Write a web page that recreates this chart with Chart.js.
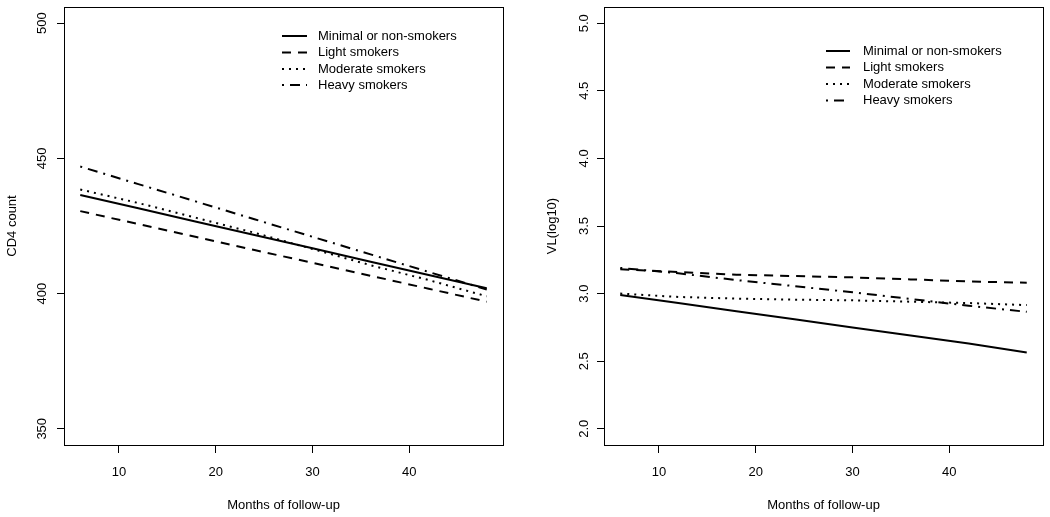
<!DOCTYPE html>
<html><head><meta charset="utf-8">
<script src="https://cdn.jsdelivr.net/npm/chart.js@4/dist/chart.umd.min.js"></script>
<style>
html,body{margin:0;padding:0;background:#fff;}
#wrap{position:relative;width:1050px;height:517px;overflow:hidden;}
canvas{position:absolute;top:0;}
</style>
</head><body>
<div id="wrap">
<canvas id="c1" width="525" height="517" style="left:0px"></canvas>
<canvas id="c2" width="525" height="517" style="left:525px"></canvas>
</div>
<script>
// ---- data ----
const months = [6, 12, 18, 24, 30, 36, 42, 48];
const seriesNames = ['Minimal or non-smokers', 'Light smokers', 'Moderate smokers', 'Heavy smokers'];

const cd4Minimal  = [436.5, 431.6, 426.6, 421.7, 416.8, 411.8, 406.9, 402.0];
const cd4Light    = [430.5, 425.7, 420.9, 416.1, 411.4, 406.6, 401.8, 397.0];
const cd4Moderate = [438.5, 433.5, 428.0, 422.5, 416.5, 410.5, 405.0, 399.0];
const cd4Heavy    = [447.0, 440.5, 434.0, 427.5, 421.0, 414.5, 408.0, 401.5];

const vlMinimal  = [2.99, 2.93, 2.87, 2.81, 2.75, 2.69, 2.63, 2.565];
const vlLight    = [3.18, 3.16, 3.14, 3.13, 3.12, 3.105, 3.09, 3.08];
const vlModerate = [3.00, 2.975, 2.963, 2.955, 2.95, 2.94, 2.93, 2.915];
const vlHeavy    = [3.19, 3.15, 3.10, 3.055, 3.01, 2.96, 2.91, 2.865];

const xTicks = [10, 20, 30, 40];
const cd4Ticks = [350, 400, 450, 500];
const vlTicks = [2.0, 2.5, 3.0, 3.5, 4.0, 4.5, 5.0];

const xTitle = 'Months of follow-up';
const cd4Title = 'CD4 count';
const vlTitle = 'VL(log10)';

// ---- styles ----
const FONT = '"Liberation Sans", Arial, sans-serif';
const dashes = [[], [9, 7], [2, 5], [2, 6, 10, 6]];

function makeDatasets(arrs) {
  return arrs.map((vals, i) => ({
    label: seriesNames[i],
    data: months.map((m, j) => ({x: m, y: vals[j]})),
    borderColor: '#000',
    borderWidth: 2,
    borderDash: dashes[i],
    borderCapStyle: 'butt',
    pointRadius: 0,
    tension: 0,
    fill: false
  }));
}

function rPlugin(cfg) {
  return {
    id: 'rstyle',
    afterDraw(chart) {
      const ctx = chart.ctx;
      const a = chart.chartArea;
      const ys = chart.scales.y;
      ctx.save();
      // box
      ctx.strokeStyle = '#000';
      ctx.lineWidth = 1;
      ctx.setLineDash([]);
      ctx.strokeRect(Math.round(a.left) + 0.5, Math.round(a.top) + 0.5, Math.round(a.right - a.left), Math.round(a.bottom - a.top));
      // y tick labels rotated
      ctx.fillStyle = '#000';
      ctx.font = '13px ' + FONT;
      ctx.textAlign = 'center';
      ctx.textBaseline = 'middle';
      cfg.yTicks.forEach(v => {
        const py = ys.getPixelForValue(v);
        ctx.save();
        ctx.translate(a.left - cfg.yLabOff, py);
        ctx.rotate(-Math.PI / 2);
        ctx.fillText(cfg.fmt(v), 0, 0);
        ctx.restore();
      });
      // y title
      ctx.save();
      ctx.translate(a.left - 52, (a.top + a.bottom) / 2);
      ctx.rotate(-Math.PI / 2);
      ctx.fillText(cfg.yTitle, 0, 0);
      ctx.restore();
      // x title
      ctx.fillText(xTitle, (a.left + a.right) / 2, 505);
      // legend
      ctx.textAlign = 'left';
      chart.data.datasets.forEach((ds, i) => {
        const ly = cfg.legY[i];
        ctx.beginPath();
        ctx.setLineDash(ds.borderDash);
        ctx.lineWidth = 2;
        ctx.lineCap = 'butt';
        ctx.moveTo(cfg.legX0, ly);
        ctx.lineTo(cfg.legX1, ly);
        ctx.stroke();
        ctx.setLineDash([]);
        ctx.fillText(ds.label, cfg.legTx, ly);
      });
      ctx.restore();
    }
  };
}

function makeChart(id, arrs, opts) {
  return new Chart(document.getElementById(id), {
    type: 'line',
    data: {datasets: makeDatasets(arrs)},
    options: {
      responsive: false,
      animation: false,
      devicePixelRatio: 1,
      layout: {padding: {top: 7, right: opts.padRight, left: 0, bottom: 0}},
      plugins: {legend: {display: false}, tooltip: {enabled: false}},
      scales: {
        x: {
          type: 'linear',
          min: 4.32, max: 49.68,
          afterBuildTicks: s => { s.ticks = xTicks.map(v => ({value: v})); },
          afterFit: s => { s.height = 72; },
          grid: {drawOnChartArea: false, drawTicks: true, tickLength: 8, color: '#000', lineWidth: 1},
          border: {display: false},
          ticks: {color: '#000', font: {family: FONT, size: 13}, padding: 12, maxRotation: 0, autoSkip: false}
        },
        y: {
          type: 'linear',
          min: opts.yMin, max: opts.yMax,
          afterBuildTicks: s => { s.ticks = opts.yTicks.map(v => ({value: v})); },
          afterFit: s => { s.width = opts.yWidth; },
          grid: {drawOnChartArea: false, drawTicks: true, tickLength: 7, color: '#000', lineWidth: 1},
          border: {display: false},
          ticks: {display: false}
        }
      }
    },
    plugins: [rPlugin(opts)]
  });
}

makeChart('c1', [cd4Minimal, cd4Light, cd4Moderate, cd4Heavy], {
  yMin: 344, yMax: 506, yTicks: cd4Ticks, yWidth: 64, padRight: 22,
  fmt: v => String(v), yLabOff: 22, yTitle: cd4Title,
  legX0: 282, legX1: 307, legTx: 318, legY: [36, 52.5, 69, 85]
});
makeChart('c2', [vlMinimal, vlLight, vlModerate, vlHeavy], {
  yMin: 1.88, yMax: 5.12, yTicks: vlTicks, yWidth: 79, padRight: 7,
  fmt: v => v.toFixed(1), yLabOff: 20, yTitle: vlTitle,
  legX0: 301, legX1: 325, legTx: 338, legY: [51, 67.5, 84, 100.5]
});
</script>
</body></html>
